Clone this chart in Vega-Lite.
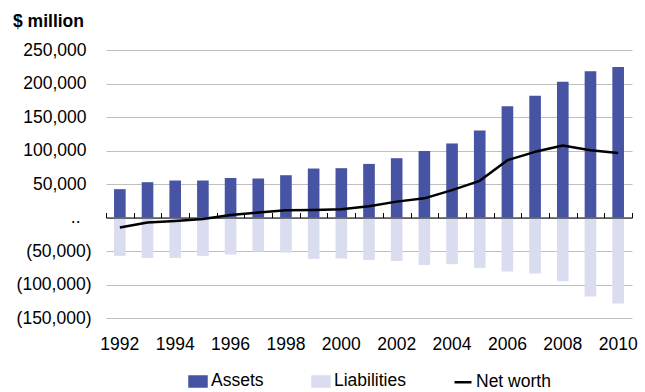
{
  "$schema": "https://vega.github.io/schema/vega-lite/v6.json",
  "width": 526,
  "height": 268,
  "autosize": "none",
  "padding": {"left": 106, "top": 50, "right": 13, "bottom": 74},
  "background": "white",
  "config": {
    "font": "Liberation Sans",
    "view": {"stroke": null},
    "axis": {"labelFont": "Liberation Sans", "labelColor": "#000", "labelFontSize": 17.5},
    "axisY": {
      "title": null, "domain": false, "ticks": false, "tickSize": 0,
      "labelOverlap": false, "labelFlush": false,
      "labelPadding": {"condition": [{"test": "datum.value == 0", "value": 26}, {"test": "datum.value > 0", "value": 20}], "value": 15},
      "grid": true, "gridColor": "#bfbfbf", "gridWidth": 1
    },
    "legend": {"layout": {"bottom": {"anchor": "middle"}}}
  },
  "title": {
    "text": "$ million",
    "anchor": "start",
    "frame": "group",
    "dx": -93,
    "fontSize": 17.5,
    "fontWeight": "bold",
    "font": "Liberation Sans",
    "color": "#000",
    "baseline": "alphabetic",
    "offset": -3
  },
  "data": {
    "values": [
      {"year": "1992", "assets": 42300, "liabilities": -57300, "networth": -15000},
      {"year": "1993", "assets": 52700, "liabilities": -60300, "networth": -7600},
      {"year": "1994", "assets": 55200, "liabilities": -60300, "networth": -5100},
      {"year": "1995", "assets": 55200, "liabilities": -57300, "networth": -2100},
      {"year": "1996", "assets": 59100, "liabilities": -55300, "networth": 3800},
      {"year": "1997", "assets": 58200, "liabilities": -50800, "networth": 7400},
      {"year": "1998", "assets": 63100, "liabilities": -52300, "networth": 10800},
      {"year": "1999", "assets": 73100, "liabilities": -61800, "networth": 11300},
      {"year": "2000", "assets": 73600, "liabilities": -61200, "networth": 12400},
      {"year": "2001", "assets": 80000, "liabilities": -63300, "networth": 16700},
      {"year": "2002", "assets": 88500, "liabilities": -64800, "networth": 23700},
      {"year": "2003", "assets": 99400, "liabilities": -70800, "networth": 28600},
      {"year": "2004", "assets": 110500, "liabilities": -69700, "networth": 40800},
      {"year": "2005", "assets": 129900, "liabilities": -75200, "networth": 54700},
      {"year": "2006", "assets": 166200, "liabilities": -80600, "networth": 85600},
      {"year": "2007", "assets": 181600, "liabilities": -83600, "networth": 98000},
      {"year": "2008", "assets": 202500, "liabilities": -95100, "networth": 107400},
      {"year": "2009", "assets": 218400, "liabilities": -118000, "networth": 100400},
      {"year": "2010", "assets": 224800, "liabilities": -128400, "networth": 96400}
    ]
  },
  "layer": [
    {
      "mark": {"type": "bar", "width": {"band": 0.42}},
      "encoding": {
        "x": {
          "field": "year", "type": "ordinal",
          "scale": {"paddingInner": 0, "paddingOuter": 0},
          "axis": {
            "orient": "bottom", "title": null, "domain": false, "ticks": false, "tickSize": 0,
            "labelAngle": 0, "labelPadding": 17, "grid": false, "labelOverlap": false,
            "labelExpr": "toNumber(datum.value) % 2 == 0 ? datum.label : ''"
          }
        },
        "y": {
          "field": "assets", "type": "quantitative", "title": null,
          "scale": {"domain": [-150000, 250000], "nice": false, "zero": false},
          "axis": {
            "values": [-150000, -100000, -50000, 0, 50000, 100000, 150000, 200000, 250000],
            "labelExpr": "datum.value == 0 ? '..' : datum.value < 0 ? '(' + format(-datum.value, ',') + ')' : format(datum.value, ',')"
          }
        },
        "color": {
          "datum": "Assets",
          "scale": {"domain": ["Assets", "Liabilities", "Net worth"], "range": ["#4753a3", "#dadcef", "#000000"]},
          "legend": {
            "orient": "bottom",
            "direction": "horizontal",
            "title": null,
            "offset": 18,
            "padding": 0,
            "labelFont": "Liberation Sans",
            "labelFontSize": 17.5,
            "labelColor": "#000",
            "labelOffset": 3,
            "columnPadding": 43,
            "symbolSize": 289,
            "symbolStrokeWidth": 2.5,
            "symbolType": "M-1,-0.59H1V0.59H-1Z",
            "encode": {
              "symbols": {
                "update": {
                  "shape": {"signal": "datum.label === 'Net worth' ? 'M-1,0H1' : 'M-1,-0.59H1V0.59H-1Z'"},
                  "fill": {"signal": "datum.label === 'Net worth' ? 'transparent' : scale('color', datum.value)"},
                  "stroke": {"signal": "datum.label === 'Net worth' ? '#000000' : 'transparent'"},
                  "strokeWidth": {"value": 2.5},
                  "opacity": {"value": 1},
                  "fillOpacity": {"value": 1}
                }
              }
            }
          }
        }
      }
    },
    {
      "mark": {"type": "bar", "width": {"band": 0.42}},
      "encoding": {
        "x": {
          "field": "year", "type": "ordinal",
          "axis": {
            "orient": "top", "offset": -167.5, "title": null, "labels": false,
            "domain": true, "domainColor": "#000", "domainWidth": 1,
            "ticks": true, "tickBand": "extent", "tickSize": 5, "tickColor": "#000", "tickWidth": 1,
            "grid": false, "zindex": 1
          }
        },
        "y": {
          "field": "liabilities", "type": "quantitative", "title": null,
          "axis": {
            "values": [-150000, -100000, -50000, 0, 50000, 100000, 150000, 200000, 250000],
            "labelExpr": "datum.value == 0 ? '..' : datum.value < 0 ? '(' + format(-datum.value, ',') + ')' : format(datum.value, ',')"
          }
        },
        "color": {"datum": "Liabilities"}
      }
    },
    {
      "mark": {"type": "line", "strokeWidth": 2.5, "strokeJoin": "round"},
      "encoding": {
        "x": {"field": "year", "type": "ordinal", "axis": null},
        "y": {
          "field": "networth", "type": "quantitative", "title": null,
          "axis": {
            "values": [-150000, -100000, -50000, 0, 50000, 100000, 150000, 200000, 250000],
            "labelExpr": "datum.value == 0 ? '..' : datum.value < 0 ? '(' + format(-datum.value, ',') + ')' : format(datum.value, ',')"
          }
        },
        "color": {"datum": "Net worth"}
      }
    }
  ],
  "resolve": {"axis": {"x": "independent"}}
}
